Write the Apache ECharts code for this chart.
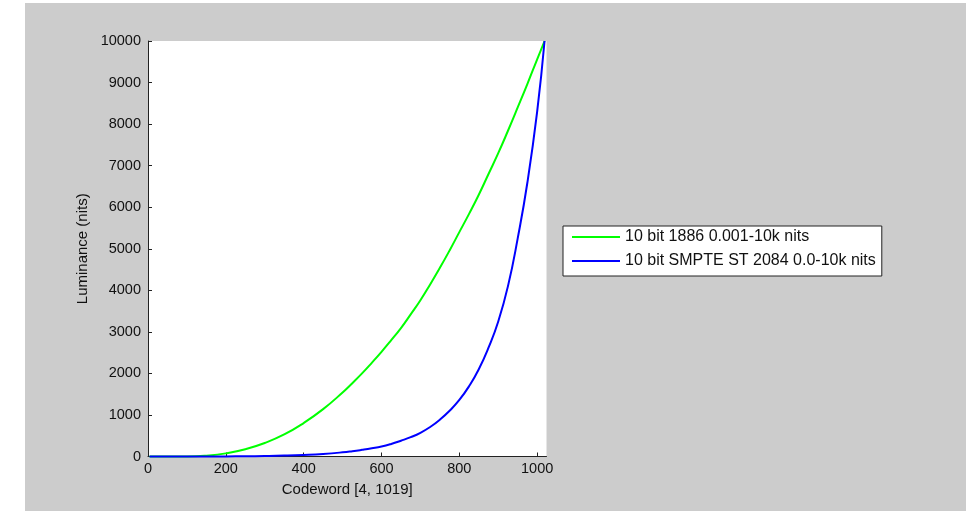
<!DOCTYPE html>
<html>
<head>
<meta charset="utf-8">
<script src="https://cdn.jsdelivr.net/npm/echarts@6/dist/echarts.min.js"></script>
<style>
html,body{margin:0;padding:0;background:#ffffff;}
#chart{width:966px;height:511px;}
</style>
</head>
<body>
<div id="chart"></div>
<script>
// Codewords sampled along the x axis
const codewords = [4, 50, 100, 150, 200, 250, 300, 350, 400, 450, 500, 525, 550, 575, 600, 625, 650, 675, 700, 725, 750, 775, 800, 825, 850, 875, 900, 925, 950, 975, 1000, 1019];
// Luminance (nits)
const bt1886 = [0, 0, 0, 20, 75, 175, 325, 530, 805, 1140, 1540, 1765, 2000, 2255, 2520, 2800, 3090, 3420, 3760, 4140, 4540, 4960, 5400, 5840, 6300, 6800, 7300, 7840, 8400, 8970, 9560, 10000];
const st2084 = [0, 0, 0, 1, 3, 6, 12, 22, 38, 62, 100, 127, 160, 197, 240, 302, 380, 465, 570, 710, 885, 1100, 1360, 1690, 2100, 2620, 3250, 4100, 5250, 6600, 8300, 10000];
const seriesNames = ['10 bit 1886 0.001-10k nits', '10 bit SMPTE ST 2084 0.0-10k nits'];
const xTitle = 'Codeword [4, 1019]';
const yTitle = 'Luminance (nits)';

const pairs = arr => codewords.map((c, i) => [c, arr[i]]);
const font = 'Liberation Sans, Arial, sans-serif';
const axisCol = '#222222';

const chart = echarts.init(document.getElementById('chart'), null, {renderer: 'canvas'});
chart.setOption({
  animation: false,
  backgroundColor: '#ffffff',
  graphic: [{
    type: 'rect', z: -10, silent: true,
    shape: {x: 25, y: 3, width: 941, height: 508},
    style: {fill: '#cccccc'}
  }],
  grid: {
    left: 148, top: 41, width: 398.5, height: 415.5,
    show: true, backgroundColor: '#ffffff', borderWidth: 0
  },
  xAxis: {
    type: 'value', min: 0, max: 1024, interval: 200,
    name: xTitle, nameLocation: 'middle', nameGap: 26,
    nameTextStyle: {fontFamily: font, fontSize: 15, color: '#111'},
    axisLine: {show: true, onZero: false, lineStyle: {color: axisCol, width: 1}},
    axisTick: {show: true, inside: true, length: 4, lineStyle: {color: axisCol}},
    axisLabel: {fontFamily: font, fontSize: 14.5, color: '#111', margin: 5, formatter: v => String(v)},
    splitLine: {show: false}
  },
  yAxis: {
    type: 'value', min: 0, max: 10000, interval: 1000,
    name: yTitle, nameLocation: 'middle', nameGap: 58,
    nameTextStyle: {fontFamily: font, fontSize: 15, color: '#111'},
    axisLine: {show: true, lineStyle: {color: axisCol, width: 1}},
    axisTick: {show: true, inside: true, length: 4, lineStyle: {color: axisCol}},
    axisLabel: {fontFamily: font, fontSize: 14.5, color: '#111', margin: 7, formatter: v => String(v)},
    splitLine: {show: false}
  },
  legend: {
    orient: 'vertical', left: 563, top: 226,
    padding: [3, 6, 7, 9], itemGap: 8,
    itemWidth: 48, itemHeight: 2,
    backgroundColor: '#ffffff', borderColor: axisCol, borderWidth: 1, borderRadius: 0,
    textStyle: {fontFamily: font, fontSize: 16, color: '#111', lineHeight: 16},
    data: [
      {name: seriesNames[0], icon: 'rect'},
      {name: seriesNames[1], icon: 'rect'}
    ]
  },
  series: [
    {
      name: seriesNames[0], type: 'line', data: pairs(bt1886),
      smooth: 0.5, showSymbol: false, clip: false,
      lineStyle: {color: '#00ff00', width: 2}, itemStyle: {color: '#00ff00'}
    },
    {
      name: seriesNames[1], type: 'line', data: pairs(st2084),
      smooth: 0.5, showSymbol: false, clip: false,
      lineStyle: {color: '#0000ff', width: 2}, itemStyle: {color: '#0000ff'}
    }
  ]
});
</script>
</body>
</html>
